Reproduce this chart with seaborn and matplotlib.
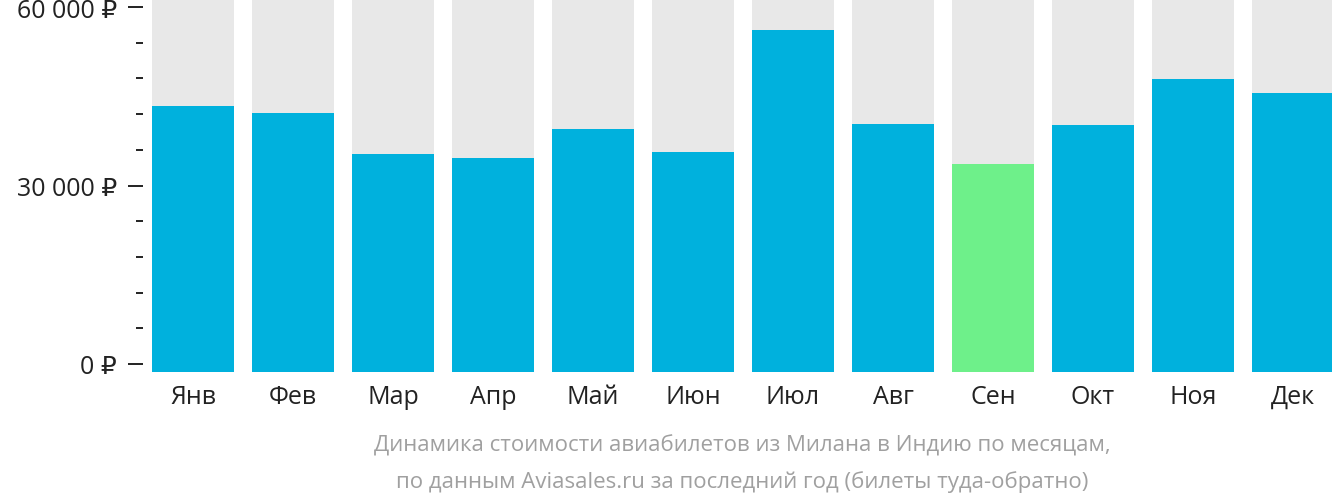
import matplotlib
matplotlib.use("Agg")
import matplotlib.pyplot as plt
import matplotlib.ticker as mticker
import seaborn as sns
import pandas as pd

months = ["Янв", "Фев", "Мар", "Апр", "Май", "Июн", "Июл", "Авг", "Сен", "Окт", "Ноя", "Дек"]
prices = [43400, 42200, 35300, 34600, 39500, 35600, 56100, 40300, 33600, 40200, 47900, 45500]
cheapest = "Сен"
y_ticks = [0, 30000, 60000]
y_tick_labels = ["0 ₽", "30 000 ₽", "60 000 ₽"]
caption = ("Динамика стоимости авиабилетов из Милана в Индию по месяцам,\n"
           "по данным Aviasales.ru за последний год (билеты туда-обратно)")

BLUE = "#00b1dd"
GREEN = "#6ef08a"
GREY = "#e8e8e8"

sns.set_style("white")
plt.rcParams["font.family"] = ["Open Sans", "DejaVu Sans"]

df = pd.DataFrame({"month": months, "price": prices})
y_min, y_max = -1345, 61345

fig = plt.figure(figsize=(13.32, 5.02), dpi=100)
ax = fig.add_axes([143 / 1332, 1 - 373 / 502, 1 - 143 / 1332, 373 / 502])

# grey background columns over the full height
sns.barplot(data=df.assign(full=y_max), x="month", y="full", color=GREY,
            width=0.82, saturation=1, linewidth=0, ax=ax)
palette = {m: (GREEN if m == cheapest else BLUE) for m in months}
sns.barplot(data=df, x="month", y="price", hue="month", palette=palette,
            width=0.82, saturation=1, linewidth=0, legend=False, ax=ax)

# bars start a little below zero, like the original
for p in ax.patches:
    top = p.get_y() + p.get_height()
    p.set_y(y_min)
    p.set_height(top - y_min)

ax.set_xlim(-0.5, 11.39)
ax.set_ylim(y_min, y_max)
ax.set_yticks(y_ticks)
ax.set_yticklabels(y_tick_labels)
ax.yaxis.set_minor_locator(mticker.MultipleLocator(6000))
ax.set_xlabel("")
ax.set_ylabel("")
sns.despine(ax=ax, left=True, bottom=True)

ax.tick_params(axis="y", which="both", left=True)
ax.tick_params(axis="y", which="major", length=10.8, width=1.4, color="#222222",
               labelsize=18, labelcolor="#222222", pad=8)
ax.tick_params(axis="y", which="minor", length=5, width=1.4, color="#222222")
ax.tick_params(axis="x", length=0, labelsize=18, labelcolor="#222222", pad=22)
# same baseline for all month names (Д has a descender)
for lab in ax.get_xticklabels():
    lab.set_va("baseline")

fig.text(742 / 1332, 1 - 464 / 502, caption, ha="center", va="center",
         fontsize=16, color="#a0a0a0", linespacing=1.85)

fig.savefig("out.png", dpi=100)
